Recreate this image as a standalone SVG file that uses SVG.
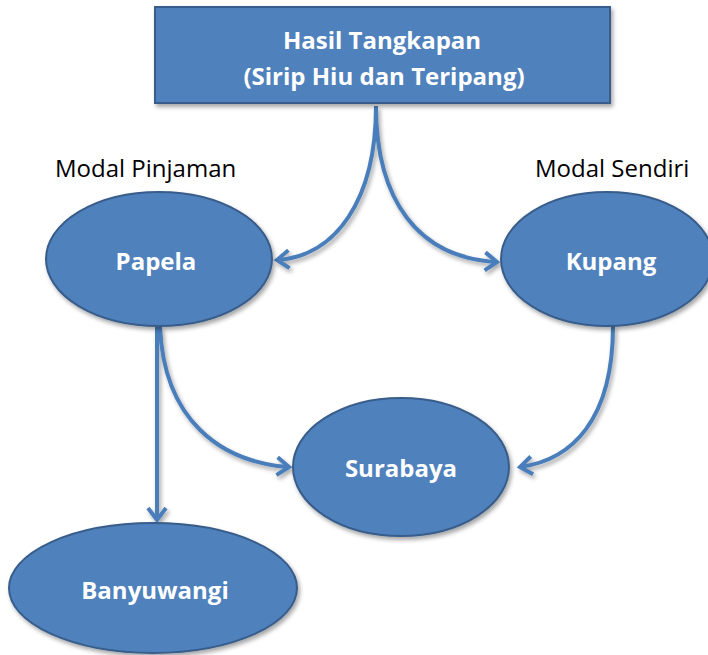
<svg xmlns="http://www.w3.org/2000/svg" width="708" height="655" viewBox="0 0 708 655">
  <style>
    .node { fill: #4F81BD; stroke: #385D8A; stroke-width: 2; }
    .ntext { font-family: "Open Sans", "Liberation Sans", sans-serif; font-weight: bold; font-size: 24px; fill: #FFFFFF; text-anchor: middle; }
    .label { font-family: "Open Sans", "Liberation Sans", sans-serif; font-size: 24px; fill: #000000; }
    .conn { fill: none; stroke: #4A7EBB; stroke-width: 4; }
  </style>
  <defs>
    <filter id="sh" x="-10%" y="-10%" width="130%" height="130%">
      <feDropShadow dx="2" dy="3" stdDeviation="2" flood-color="#000" flood-opacity="0.35"/>
    </filter>
    <marker id="arr" markerUnits="userSpaceOnUse" viewBox="0 0 24 24" markerWidth="24" markerHeight="24" refX="16" refY="12" orient="auto">
      <path d="M4,3 L16,12 L4,21" fill="none" stroke="#4A7EBB" stroke-width="4" stroke-linejoin="miter"/>
    </marker>
  </defs>

  <g id="connectors" filter="url(#sh)">
    <path class="conn" d="M376,106 C376,200 336,256 277,260" marker-end="url(#arr)"/>
    <path class="conn" d="M376,106 C376,200 418,258 497,262" marker-end="url(#arr)"/>
    <path class="conn" d="M157,327 L157,520" marker-end="url(#arr)"/>
    <path class="conn" d="M160,327 C164,420 220,462 289,467" marker-end="url(#arr)"/>
    <path class="conn" d="M613,326 C613,420 572,460 520,467" marker-end="url(#arr)"/>
  </g>

  <g id="hasil">
    <rect class="node" x="155" y="7" width="455" height="96" filter="url(#sh)"/>
    <text class="ntext" x="382" y="49">Hasil Tangkapan</text>
    <text class="ntext" x="384" y="85">(Sirip Hiu dan Teripang)</text>
  </g>

  <g id="label-pinjaman">
    <text class="label" x="55" y="177">Modal Pinjaman</text>
  </g>
  <g id="label-sendiri">
    <text class="label" x="535" y="177">Modal Sendiri</text>
  </g>

  <g id="papela">
    <ellipse class="node" cx="159" cy="259" rx="113" ry="67" filter="url(#sh)"/>
    <text class="ntext" x="156" y="270">Papela</text>
  </g>

  <g id="kupang">
    <ellipse class="node" cx="607" cy="259" rx="106" ry="67" filter="url(#sh)"/>
    <text class="ntext" x="611" y="270">Kupang</text>
  </g>

  <g id="surabaya">
    <ellipse class="node" cx="401" cy="467" rx="108" ry="69" filter="url(#sh)"/>
    <text class="ntext" x="401" y="477">Surabaya</text>
  </g>

  <g id="banyuwangi">
    <ellipse class="node" cx="153" cy="588" rx="144" ry="65" filter="url(#sh)"/>
    <text class="ntext" x="155" y="599">Banyuwangi</text>
  </g>
</svg>
